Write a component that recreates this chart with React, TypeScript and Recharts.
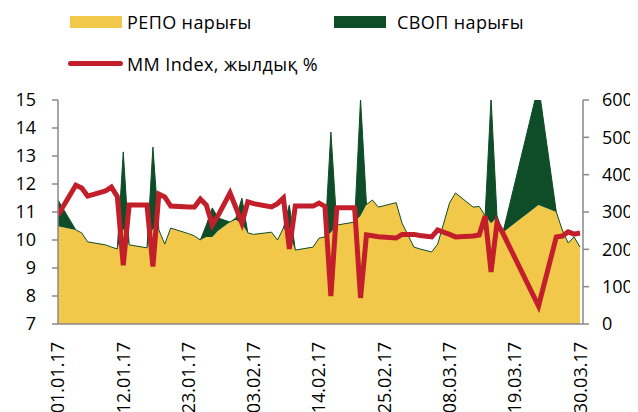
import React from 'react';
import { ComposedChart, Area, Line, XAxis, YAxis } from 'recharts';

const dates = [
  '01.01.17', '04.01.17', '05.01.17', '06.01.17', '09.01.17', '10.01.17', '11.01.17', '12.01.17',
  '13.01.17', '16.01.17', '17.01.17', '18.01.17', '19.01.17', '20.01.17', '23.01.17', '24.01.17',
  '25.01.17', '26.01.17', '27.01.17', '28.01.17', '30.01.17', '31.01.17', '01.02.17', '02.02.17',
  '03.02.17', '06.02.17', '07.02.17', '08.02.17', '09.02.17', '10.02.17', '13.02.17', '14.02.17',
  '15.02.17', '16.02.17', '17.02.17', '20.02.17', '21.02.17', '22.02.17', '23.02.17', '24.02.17',
  '27.02.17', '28.02.17', '02.03.17', '03.03.17', '05.03.17', '06.03.17', '08.03.17', '09.03.17',
  '12.03.17', '13.03.17', '14.03.17', '15.03.17', '16.03.17', '17.03.17', '23.03.17', '26.03.17',
  '27.03.17', '28.03.17', '29.03.17', '30.03.17',
];

// РЕПО нарығы (right axis)
const repoValues = [
  262, 252, 244, 220, 212, 206, 201, 255,
  212, 204, 255, 252, 214, 257, 242, 236,
  225, 233, 233, 250, 273, 279, 268, 244,
  240, 246, 225, 257, 240, 198, 206, 230,
  233, 245, 265, 273, 290, 320, 332, 313,
  325, 270, 206, 201, 193, 214, 324, 351,
  313, 315, 290, 270, 285, 245, 319, 300,
  252, 217, 233, 206,
];

// СВОП нарығы (right axis, stacked on РЕПО)
const swapValues = [
  70, 0, 0, 0, 0, 0, 0, 206,
  0, 0, 219, 0, 0, 0, 0, 0,
  0, 32, 78, 34, 0, 5, 69, 0,
  0, 0, 0, 0, 79, 0, 0, 0,
  0, 269, 0, 0, 313, 0, 0, 0,
  0, 0, 0, 0, 0, 0, 0, 0,
  0, 0, 0, 335, 5, 0, 321, 0,
  0, 0, 0, 0,
];

// MM Index, жылдық % (left axis)
const mmIndex = [
  10.89, 11.96, 11.86, 11.57, 11.75, 11.89, 11.55, 9.10,
  11.25, 11.25, 9.05, 11.64, 11.54, 11.21, 11.18, 11.18,
  11.46, 11.25, 10.54, 10.88, 11.68, 11.15, 10.6, 11.36,
  11.3, 11.18, 11.3, 11.5, 9.68, 11.21, 11.21, 11.32,
  11.2, 8.0, 11.15, 11.15, 7.93, 10.18, 10.15, 10.12,
  10.07, 10.2, 10.2, 10.16, 10.11, 10.36, 10.2, 10.11,
  10.14, 10.18, 10.86, 8.86, 10.61, 10.24, 7.64, 10.11,
  10.14, 10.29, 10.21, 10.25,
];

const tickLabels = ['01.01.17', '12.01.17', '23.01.17', '03.02.17', '14.02.17', '25.02.17', '08.03.17', '19.03.17', '30.03.17'];
const leftTicks = [7, 8, 9, 10, 11, 12, 13, 14, 15];
const rightTicks = [0, 100, 200, 300, 400, 500, 600];

const seriesNames = { repo: 'РЕПО нарығы', swap: 'СВОП нарығы', mm: 'MM Index, жылдық %' };

const toDay = (s: string) => {
  const [d, m, y] = s.split('.').map(Number);
  return (Date.UTC(2000 + y, m - 1, d) - Date.UTC(2017, 0, 1)) / 86400000;
};

const data = dates.map((s, i) => ({
  day: toDay(s),
  repo: repoValues[i],
  swap: swapValues[i],
  mm: mmIndex[i],
}));

const xTicks = tickLabels.map(toDay);
const labelByDay: Record<number, string> = {};
tickLabels.forEach((l) => { labelByDay[toDay(l)] = l; });

const YELLOW = '#F2C84B';
const GREEN = '#0E4D27';
const RED = '#C21F2B';
const AXIS = '#898989';
const FONT = '"Open Sans", sans-serif';

const RotTick = (props: any) => {
  const { x, y, payload } = props;
  return (
    <text
      x={x}
      y={y + 18}
      transform={`rotate(-90, ${x}, ${y + 18})`}
      textAnchor="end"
      dy="0.36em"
      fontSize={18}
      fontFamily={FONT}
      fill="#000"
    >
      {labelByDay[payload.value]}
    </text>
  );
};

const legendText = { position: 'absolute' as const, fontSize: 18, lineHeight: '22px', letterSpacing: '0.4px', whiteSpace: 'nowrap' as const };

export default function App() {
  return (
    <div style={{ position: 'relative', width: 630, height: 404, fontFamily: FONT, color: '#000' }}>
      <div style={{ position: 'absolute', left: 62, top: 8, width: 52, height: 12, background: YELLOW }} />
      <div style={{ ...legendText, left: 119, top: 3 }}>{seriesNames.repo}</div>
      <div style={{ position: 'absolute', left: 326, top: 8, width: 52, height: 12, background: GREEN }} />
      <div style={{ ...legendText, left: 389, top: 3 }}>{seriesNames.swap}</div>
      <div style={{ position: 'absolute', left: 60, top: 53, width: 55, height: 5, borderRadius: 3, background: RED }} />
      <div style={{ ...legendText, left: 119, top: 45 }}>{seriesNames.mm}</div>
      <ComposedChart width={630} height={404} data={data} margin={{ top: 92, right: 0, bottom: 0, left: 0 }}>
        <XAxis
          dataKey="day"
          type="number"
          domain={[0, 88.5]}
          ticks={xTicks}
          interval={0}
          allowDataOverflow
          height={88}
          tickLine={false}
          tickSize={0}
          tickMargin={0}
          tick={<RotTick />}
          axisLine={{ stroke: AXIS, strokeWidth: 1.5 }}
        />
        <YAxis
          yAxisId="left"
          orientation="left"
          domain={[7, 15]}
          ticks={leftTicks}
          interval={0}
          width={50}
          tickSize={6}
          tickMargin={16}
          axisLine={{ stroke: AXIS, strokeWidth: 1.5 }}
          tickLine={{ stroke: AXIS, strokeWidth: 1.5 }}
          tick={{ fill: '#000', fontSize: 18, fontFamily: FONT }}
        />
        <YAxis
          yAxisId="right"
          orientation="right"
          domain={[0, 600]}
          ticks={rightTicks}
          interval={0}
          allowDataOverflow
          width={55}
          tickSize={6}
          tickMargin={13}
          axisLine={{ stroke: AXIS, strokeWidth: 1.5 }}
          tickLine={{ stroke: AXIS, strokeWidth: 1.5 }}
          tick={{ fill: '#000', fontSize: 18, fontFamily: FONT }}
        />
        <Area
          yAxisId="right"
          dataKey="repo"
          name={seriesNames.repo}
          stackId="a"
          type="linear"
          fill={YELLOW}
          fillOpacity={1}
          stroke="none"
          isAnimationActive={false}
        />
        <Area
          yAxisId="right"
          dataKey="swap"
          name={seriesNames.swap}
          stackId="a"
          type="linear"
          fill={GREEN}
          fillOpacity={1}
          stroke={GREEN}
          strokeWidth={1}
          isAnimationActive={false}
        />
        <Line
          yAxisId="left"
          dataKey="mm"
          name={seriesNames.mm}
          type="linear"
          stroke={RED}
          strokeWidth={5}
          dot={false}
          isAnimationActive={false}
        />
      </ComposedChart>
    </div>
  );
}
